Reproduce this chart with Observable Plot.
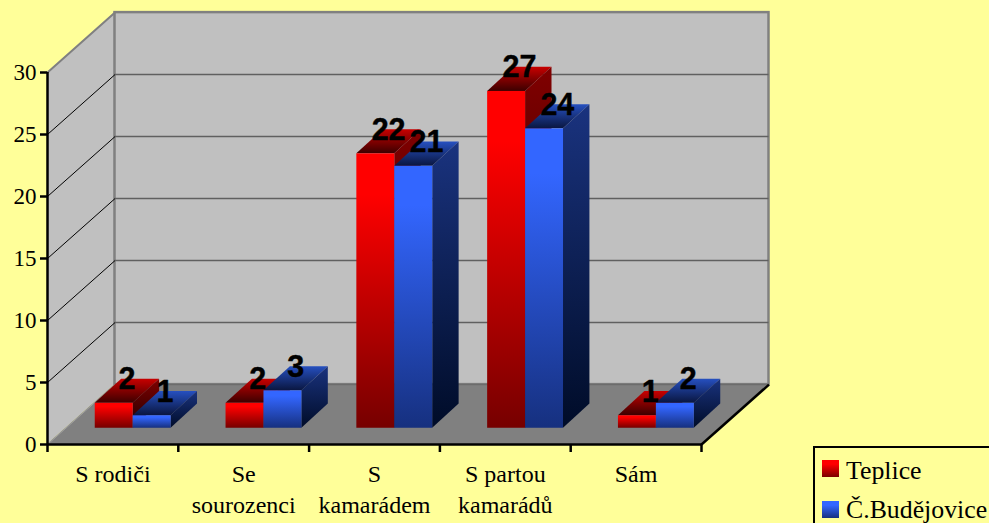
<!DOCTYPE html>
<html><head><meta charset="utf-8">
<script src="https://cdn.jsdelivr.net/npm/d3@7"></script>
<script src="https://cdn.jsdelivr.net/npm/@observablehq/plot@0.6"></script>
<style>
html,body{margin:0;padding:0;background:#ffff99;overflow:hidden;width:989px;height:523px}
#chart{position:relative;width:989px;height:523px}
#chart svg{position:absolute;left:0;top:0;background:transparent}
#legend{position:absolute;left:813px;top:446px;width:176px;height:77px;box-sizing:border-box;border:2.5px solid #000;border-right:none;border-bottom:none;background:#ffff99;font:25.8px/22px "Liberation Serif",serif;color:#000}
#legend div{position:absolute;left:0;white-space:nowrap}
#legend i{position:absolute;left:7px;width:17px;height:17px}
#legend span{position:absolute;left:31px}
</style></head><body><div id="chart"></div>
<script>
const categories = ["S rodiči", "Se\nsourozenci", "S\nkamarádem", "S partou\nkamarádů", "Sám"];
const teplice = [2, 2, 22, 27, 1];
const budejovice = [1, 3, 21, 24, 2];
const seriesNames = ["Teplice", "Č.Budějovice"];
const yTicks = [0, 5, 10, 15, 20, 25, 30];

// Depth of the room expressed in data units (categories, values)
const roomX = 0.516, roomY = 4.83;
const barFrontX = 0.155, barFrontY = 1.31;
const barDepthX = 0.202, barDepthY = 1.95;
const barW = 0.29;
const barStretch = 1.006; // front plane of the bars sits slightly nearer than the axis plane

const bars = [];
categories.forEach((c, i) => {
  bars.push({i, s: 0, v: teplice[i], x0: i + 0.5 + barFrontX - barW, x1: i + 0.5 + barFrontX});
  bars.push({i, s: 1, v: budejovice[i], x0: i + 0.5 + barFrontX, x1: i + 0.5 + barFrontX + barW});
});
const base = barFrontY;
const topOf = b => base + b.v * barStretch;

// Faces of a bar as parallelograms
const sideFace = b => [
  {x: b.x1, y1: base, y2: topOf(b)},
  {x: b.x1 + barDepthX, y1: base + barDepthY, y2: topOf(b) + barDepthY}
];
const topFace = b => [
  {y: topOf(b), x1: b.x0, x2: b.x1},
  {y: topOf(b) + barDepthY, x1: b.x0 + barDepthX, x2: b.x1 + barDepthX}
];

const grad = (id, stops) => `<linearGradient id="${id}" x1="0" y1="0" x2="0" y2="1">` +
  stops.map(([o, c]) => `<stop offset="${o}" stop-color="${c}"/>`).join("") + `</linearGradient>`;
const defs = () => {
  const g = document.createElementNS("http://www.w3.org/2000/svg", "g");
  g.innerHTML = "<defs>" +
    grad("rf", [[0, "#ff0000"], [0.15, "#ff0000"], [1, "#760000"]]) +
    grad("bf", [[0, "#3366ff"], [0.15, "#3366ff"], [1, "#16307f"]]) +
    grad("rt", [[0, "#c80000"], [1, "#3c0000"]]) +
    grad("bt", [[0, "#2650c0"], [1, "#0a1640"]]) +
    grad("rs", [[0, "#800000"], [1, "#1e0000"]]) +
    grad("bs", [[0, "#1a337f"], [1, "#000c28"]]) +
    "</defs>";
  return g;
};

const barMarks = [];
for (const s of [0, 1]) {
  for (const b of bars.filter(d => d.s === s)) {
    const pre = s === 0 ? "r" : "b";
    barMarks.push(
      Plot.areaX(topFace(b), {y: "y", x1: "x1", x2: "x2", fill: `url(#${pre}t)`}),
      Plot.areaY(sideFace(b), {x: "x", y1: "y1", y2: "y2", fill: `url(#${pre}s)`}),
      Plot.rect([b], {x1: "x0", x2: "x1", y1: () => base, y2: d => topOf(d), fill: `url(#${pre}f)`})
    );
  }
}

const gridVals = yTicks.filter(v => v > 0 && v < 30);
const plot = Plot.plot({
  width: 989, height: 523,
  marginLeft: 47, marginRight: 288, marginTop: 72, marginBottom: 79,
  style: {background: "transparent", overflow: "visible"},
  x: {domain: [0, 5], axis: null},
  y: {domain: [0, 30], axis: null},
  marks: [
    defs,
    // side wall
    Plot.areaY([{x: 0, y1: 0, y2: 30}, {x: roomX, y1: roomY, y2: 30 + roomY}], {x: "x", y1: "y1", y2: "y2", fill: "#c0c0c0"}),
    // back wall
    Plot.rect([0], {x1: roomX, x2: 5 + roomX, y1: roomY, y2: 30 + roomY, fill: "#c0c0c0", stroke: "#808080", strokeWidth: 2.5}),
    // floor
    Plot.areaX([{y: 0, x1: 0, x2: 5}, {y: roomY, x1: roomX, x2: 5 + roomX}], {y: "y", x1: "x1", x2: "x2", fill: "#808080"}),
    Plot.ruleY([roomY], {x1: roomX, x2: 5 + roomX, y: d => d, stroke: "#6c6c6c", strokeWidth: 1.5}),
    // grid lines
    Plot.ruleY(gridVals, {x1: roomX, x2: 5 + roomX, y: d => d + roomY, stroke: "#606060", strokeWidth: 1.5}),
    Plot.link(gridVals, {x1: 0, x2: roomX, y1: d => d, y2: d => d + roomY, stroke: "#000", strokeWidth: 1}),
    // edges of the room
    Plot.link([30], {x1: 0, x2: roomX, y1: d => d, y2: d => d + roomY, stroke: "#808080", strokeWidth: 2}),
    Plot.link([0], {x1: 0, x2: roomX, y1: d => d, y2: d => d + roomY, stroke: "#a0a0a0", strokeWidth: 1}),
    Plot.link([0], {x1: 5, x2: 5 + roomX, y1: d => d, y2: d => d + roomY, stroke: "#000", strokeWidth: 2.5}),
    ...barMarks,
    // value labels
    Plot.text(bars, {
      x: d => (d.x0 + d.x1) / 2 + 0.098, y: d => topOf(d), text: d => String(d.v), dy: -14,
      lineAnchor: "bottom", fontFamily: "Liberation Sans", fontWeight: "bold", fontSize: 30.5, fill: "#000", stroke: "#000", strokeWidth: 0.4
    }),
    // axes
    Plot.ruleX([0], {y1: 0, y2: 30, stroke: "#000", strokeWidth: 2.5}),
    Plot.ruleY([0], {x1: 0, x2: 5, stroke: "#000", strokeWidth: 2.5}),
    Plot.axisY({ticks: yTicks, tickSize: 7, tickPadding: 4, strokeWidth: 2.5, label: null, fontFamily: "Liberation Serif", fontSize: 23, fill: "#000", stroke: "#000"}),
    Plot.axisX({ticks: d3.range(0, 6), tickSize: 8, tickFormat: () => "", strokeWidth: 2.5, label: null, stroke: "#000"}),
    Plot.text(categories, {
      x: (d, i) => i + 0.5, frameAnchor: "bottom", lineAnchor: "top", dy: 15, lineHeight: 1.3,
      text: d => d, fontFamily: "Liberation Serif", fontSize: 24, fill: "#000"
    })
  ]
});
const chart = document.getElementById("chart");
chart.appendChild(plot);

const legend = document.createElement("div");
legend.id = "legend";
seriesNames.forEach((n, i) => {
  const row = document.createElement("div");
  row.style.top = (i * 41) + "px";
  const sw = document.createElement("i");
  sw.style.top = "12px";
  sw.style.background = i === 0 ? "linear-gradient(#ff0000 25%,#7a0000)" : "linear-gradient(#3366ff 25%,#16307f)";
  const t = document.createElement("span");
  t.style.top = (i === 0 ? 12 : 10) + "px";
  t.textContent = n;
  row.append(sw, t);
  legend.appendChild(row);
});
chart.appendChild(legend);
</script></body></html>
